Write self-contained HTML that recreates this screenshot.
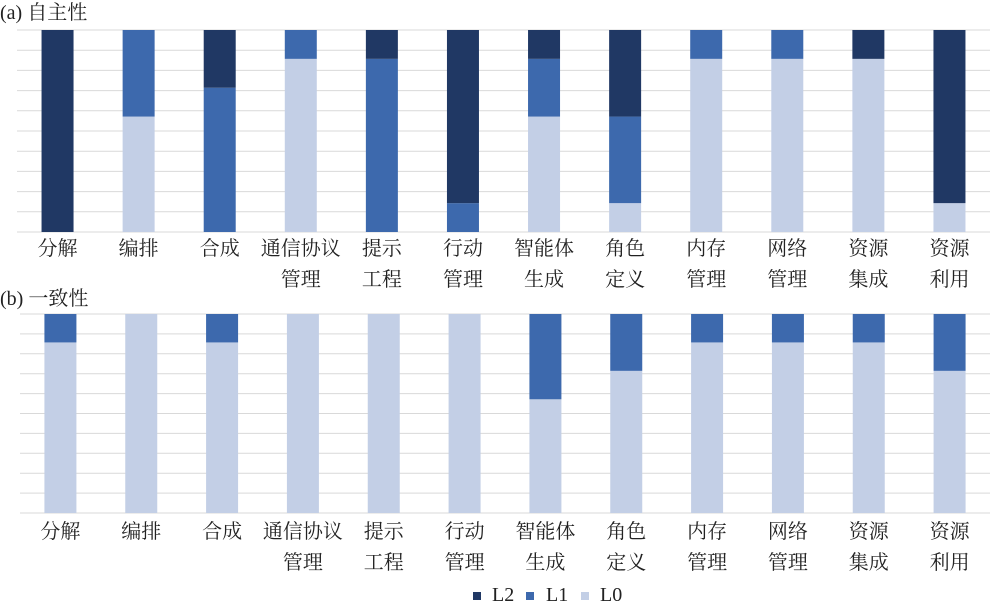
<!DOCTYPE html>
<html><head><meta charset="utf-8">
<style>
body{margin:0;background:#fff;}
svg text{font-family:"Liberation Serif","Noto Serif CJK SC",serif;fill:#222;}
</style></head>
<body>
<svg id="chart" width="992" height="604" xmlns="http://www.w3.org/2000/svg">
<text x="0" y="19" font-size="20">(a) 自主性</text>
<text x="0" y="305" font-size="20">(b) 一致性</text>
<g id="legend">
<rect x="473" y="592" width="8" height="8" fill="#203864"/>
<text x="492" y="601" font-size="20">L2</text>
<rect x="526" y="592" width="8" height="8" fill="#3d69ad"/>
<text x="546" y="601" font-size="20">L1</text>
<rect x="581" y="592" width="8" height="8" fill="#c3cfe6"/>
<text x="600" y="601" font-size="20">L0</text>
</g>
</svg>
<script>
const categories = [["分解"],["编排"],["合成"],["通信协议","管理"],["提示","工程"],["行动","管理"],["智能体","生成"],["角色","定义"],["内存","管理"],["网络","管理"],["资源","集成"],["资源","利用"]];
const autonomyL0 = [0,4,0,6,0,0,4,1,6,6,6,1];
const autonomyL1 = [0,3,5,1,6,1,2,3,1,1,0,0];
const autonomyL2 = [7,0,2,0,1,6,1,3,0,0,1,6];
const consistencyL0 = [6,7,6,7,7,7,4,5,6,6,6,5];
const consistencyL1 = [1,0,1,0,0,0,3,2,1,1,1,2];
const consistencyL2 = [0,0,0,0,0,0,0,0,0,0,0,0];
const yMax = 7;
const gridCount = 10;

const svg = document.getElementById('chart');
const NS = 'http://www.w3.org/2000/svg';
const colors = ['#c3cfe6','#3d69ad','#203864'];
const levelNames = ['l0','l1','l2'];

function drawPanel(id, left, right, top, bottom, labelY, series){
  const g = document.createElementNS(NS,'g');
  
  
  svg.appendChild(g);
  const n = categories.length;
  const step = (right-left)/n;
  const xc = i => left + step*(i+0.5);
  const y = v => bottom - (bottom-top)*v/yMax;
  for(let k=0;k<=gridCount;k++){
    const gy = top + (bottom-top)*k/gridCount;
    const l = document.createElementNS(NS,'line');
    l.setAttribute('x1',left); l.setAttribute('x2',right);
    l.setAttribute('y1',gy); l.setAttribute('y2',gy);
    l.setAttribute('stroke','#d9d9d9'); l.setAttribute('stroke-width','1');
    
    
    g.appendChild(l);
  }
  const bw = 32;
  for(let i=0;i<n;i++){
    let acc = 0;
    for(let s=0;s<3;s++){
      const v = series[s][i];
      if(v>0){
        const r = document.createElementNS(NS,'rect');
        r.setAttribute('x', xc(i)-bw/2);
        r.setAttribute('width', bw);
        r.setAttribute('y', y(acc+v));
        r.setAttribute('height', y(acc)-y(acc+v));
        r.setAttribute('fill', colors[s]);
        
        
        g.appendChild(r);
      }
      acc += v;
    }
    categories[i].forEach((line,j)=>{
      const t = document.createElementNS(NS,'text');
      t.setAttribute('x', xc(i));
      t.setAttribute('y', labelY + j*31);
      t.setAttribute('text-anchor','middle');
      t.setAttribute('font-size','20');
      t.textContent = line;
      
      
      g.appendChild(t);
    });
  }
}
drawPanel('panel-a-autonomy', 17, 990, 30, 232, 255, [autonomyL0, autonomyL1, autonomyL2]);
drawPanel('panel-b-consistency', 20, 990, 314, 513, 538, [consistencyL0, consistencyL1, consistencyL2]);
</script>
</body></html>
